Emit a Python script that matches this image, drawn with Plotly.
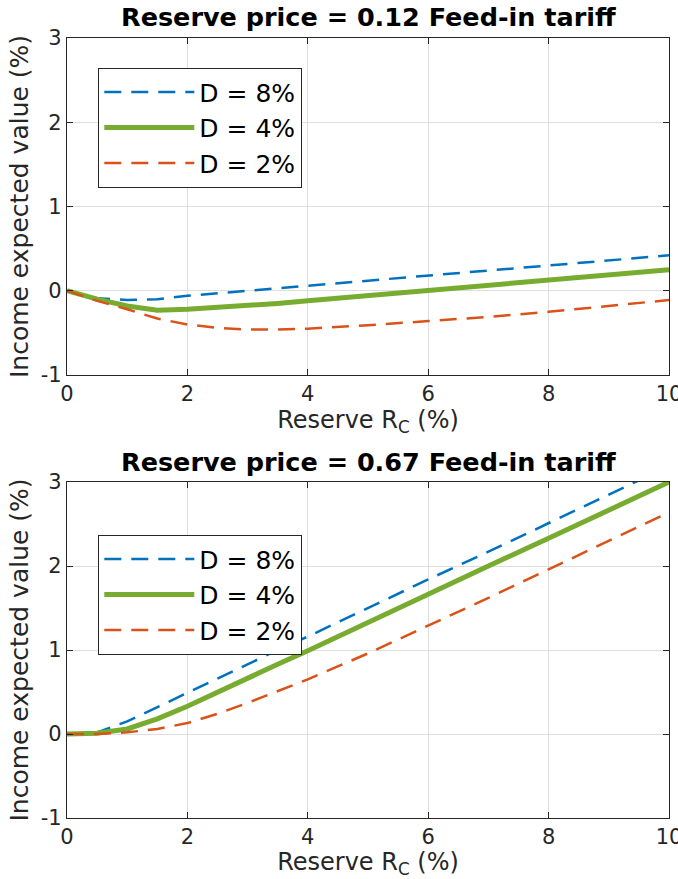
import plotly.graph_objects as go

x_vals = [0, 0.5, 1, 1.5, 2, 2.5, 3, 3.5, 4, 5, 6, 7, 8, 9, 10]

# Top panel: reserve price = 0.12 feed-in tariff
top_d8 = [0, -0.09, -0.11, -0.10, -0.06, -0.03, 0.0, 0.03, 0.06, 0.12, 0.18, 0.24, 0.30, 0.36, 0.42]
top_d4 = [0, -0.10, -0.18, -0.23, -0.22, -0.20, -0.18, -0.15, -0.12, -0.06, 0.0, 0.06, 0.12, 0.19, 0.25]
top_d2 = [0, -0.12, -0.22, -0.33, -0.40, -0.44, -0.46, -0.46, -0.45, -0.41, -0.36, -0.31, -0.25, -0.18, -0.11]

# Bottom panel: reserve price = 0.67 feed-in tariff
bot_d8 = [0, 0.02, 0.15, 0.32, 0.49, 0.66, 0.83, 1.00, 1.16, 1.50, 1.84, 2.17, 2.51, 2.85, 3.19]
bot_d4 = [0, 0.01, 0.06, 0.18, 0.33, 0.50, 0.66, 0.83, 0.99, 1.33, 1.66, 2.00, 2.33, 2.67, 3.00]
bot_d2 = [0, 0.0, 0.02, 0.06, 0.13, 0.24, 0.37, 0.51, 0.65, 0.96, 1.29, 1.62, 1.96, 2.30, 2.64]

series_names = ["D = 8%", "D = 4%", "D = 2%"]
panel_titles = ["Reserve price = 0.12 Feed-in tariff", "Reserve price = 0.67 Feed-in tariff"]
x_ticks = [0, 2, 4, 6, 8, 10]
y_ticks = [-1, 0, 1, 2, 3]
y_ticklabels = ["-1", "0", "1", "2", "3"]

colors = ["#0072BD", "#77AC30", "#D95319"]
widths = [2.5, 5, 2.5]
dashes = ["17px,10px", "solid", "17px,10px"]

W, H = 678, 879
ml, mr, mt, mb = 67, 9, 38, 61
ph = H - mt - mb

def py(p):
    return (H - mb - p) / ph

fig = go.Figure()

panels = [(top_d8, top_d4, top_d2), (bot_d8, bot_d4, bot_d2)]
for i, data in enumerate(panels):
    xa = "x" if i == 0 else "x2"
    ya = "y" if i == 0 else "y2"
    leg = "legend" if i == 0 else "legend2"
    for j, ys in enumerate(data):
        fig.add_trace(go.Scatter(
            x=x_vals, y=ys, mode="lines", name=series_names[j],
            line=dict(color=colors[j], width=widths[j], dash=dashes[j]),
            xaxis=xa, yaxis=ya, legend=leg, showlegend=True,
        ))

font_family = "DejaVu Sans"
axis_common = dict(
    showline=True, linecolor="#262626", linewidth=1.3, mirror="ticks",
    ticks="inside", ticklen=6, tickcolor="#262626", tickwidth=1.3,
    showgrid=True, gridcolor="#dedede", gridwidth=1, zeroline=False,
    tickfont=dict(family=font_family, size=21, color="#262626"),
    ticklabeloverflow="allow", automargin=False,
)

top_dom = [py(375), 1.0]
bot_dom = [0.0, py(482)]

xtitle = dict(text="Reserve R<sub>C</sub> (%)", font=dict(size=24), standoff=2)
ytitle = dict(text="Income expected value (%)", font=dict(size=25), standoff=4)

legend_common = dict(
    xanchor="left", yanchor="top",
    bordercolor="#262626", borderwidth=1.3, bgcolor="white",
    font=dict(family=font_family, size=25, color="black"),
    itemwidth=90, tracegroupgap=0,
)

fig.update_layout(
    width=W, height=H,
    margin=dict(l=ml, r=mr, t=mt, b=mb, autoexpand=False),
    paper_bgcolor="white", plot_bgcolor="white",
    font=dict(family=font_family, color="#262626"),
    xaxis=dict(domain=[0, 1], anchor="y", range=[0, 10], tickvals=x_ticks, title=xtitle, **axis_common),
    yaxis=dict(domain=top_dom, anchor="x", range=[-1, 3], tickvals=y_ticks, ticktext=y_ticklabels,
               title=ytitle, **axis_common),
    xaxis2=dict(domain=[0, 1], anchor="y2", range=[0, 10], tickvals=x_ticks, title=xtitle, **axis_common),
    yaxis2=dict(domain=bot_dom, anchor="x2", range=[-1, 3], tickvals=y_ticks, ticktext=y_ticklabels,
                title=ytitle, **axis_common),
    legend=dict(x=(98 - ml) / (W - ml - mr), y=py(68), **legend_common),
    legend2=dict(x=(98 - ml) / (W - ml - mr), y=py(535), **legend_common),
    showlegend=True,
)

title_y = [17, 462]
for i, t in enumerate(panel_titles):
    fig.add_annotation(
        text="<b>" + t + "</b>", x=0.5, xref="paper", y=py(title_y[i]), yref="paper",
        xanchor="center", yanchor="middle", showarrow=False,
        font=dict(family=font_family, size=25.5, color="black"),
    )

fig.write_html("out.html")
